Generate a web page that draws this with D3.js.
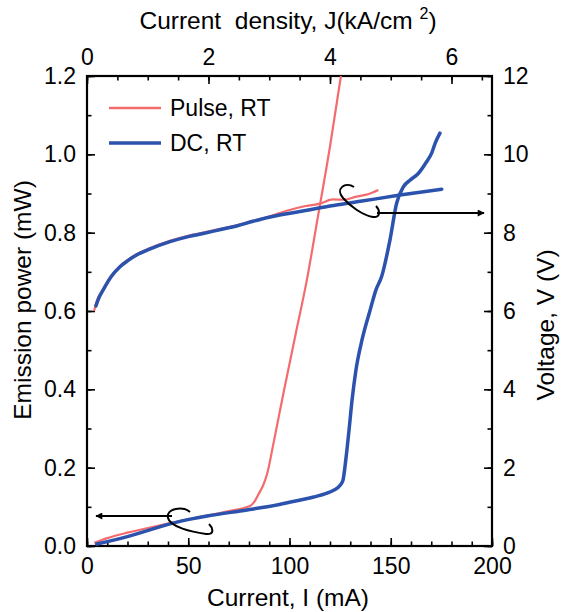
<!DOCTYPE html>
<html><head><meta charset="utf-8">
<script src="https://cdn.jsdelivr.net/npm/d3@7"></script>
<style>
html,body{margin:0;padding:0;background:#fff;}
text{font-family:"Liberation Sans",Arial,sans-serif;fill:#000;}
</style></head>
<body><svg id="c" width="562" height="612"></svg>
<script>
// ---- data ----
const pulsePowerI = [3.6, 10, 20, 30, 40, 50, 60, 70, 80.5, 82.5, 85, 87, 89, 92, 97, 103, 108.6, 114, 120, 125.4];
const pulsePowerP = [0.008, 0.02, 0.034, 0.046, 0.057, 0.068, 0.078, 0.089, 0.102, 0.112, 0.135, 0.155, 0.185, 0.26, 0.39, 0.54, 0.68, 0.84, 1.02, 1.2];
const dcPowerI = [4.8, 20, 44.4, 60, 79, 95, 105, 112, 118.5, 122, 125, 126.4, 127.8, 129.4, 130.9, 132.8, 135.8, 139.8, 142.7, 145.5, 149.6, 152.9, 156.2, 159.5, 163.6, 167.7, 170.2, 171.9, 174.3];
const dcPowerP = [0.005, 0.024, 0.061, 0.077, 0.092, 0.106, 0.117, 0.125, 0.135, 0.143, 0.155, 0.168, 0.22, 0.296, 0.373, 0.449, 0.526, 0.602, 0.654, 0.688, 0.781, 0.875, 0.917, 0.934, 0.951, 0.981, 1.003, 1.028, 1.054];
const pulseVoltI = [3.5, 5, 8, 12, 16.3, 20, 24.5, 30, 41, 50, 57.4, 66, 73.9, 82, 90.4, 100, 108, 115, 121.5, 127, 133, 138, 143.9];
const pulseVoltV = [6.0, 6.28, 6.56, 6.9, 7.15, 7.3, 7.45, 7.58, 7.79, 7.92, 8.0, 8.1, 8.19, 8.3, 8.42, 8.58, 8.68, 8.74, 8.85, 8.84, 8.92, 8.97, 9.09];
const dcVoltI = [4.4, 6, 8, 12, 16.3, 20, 24.5, 30, 41, 50, 57.4, 66, 73.9, 82, 90.4, 105.2, 120, 135, 154.6, 175.2];
const dcVoltV = [6.13, 6.35, 6.54, 6.88, 7.13, 7.28, 7.43, 7.56, 7.77, 7.9, 7.98, 8.08, 8.17, 8.29, 8.4, 8.54, 8.68, 8.8, 8.96, 9.11];
const xTicks = [0, 50, 100, 150, 200];
const yLeftTicks = [0.0, 0.2, 0.4, 0.6, 0.8, 1.0, 1.2];
const yRightTicks = [0, 2, 4, 6, 8, 10, 12];
const jTicks = [0, 2, 4, 6];
const legendLabels = ["Pulse, RT", "DC, RT"];
const colors = {pulse: "#f46b6e", dc: "#2b52ad"};

// ---- layout ----
const L = 87, R = 492, T = 76, B = 546;
const svg = d3.select("#c");
const x = d3.scaleLinear().domain([0, 200]).range([L, R]);
const xJ = d3.scaleLinear().domain([0, 200/30]).range([L, R]);
const yP = d3.scaleLinear().domain([0, 1.2]).range([B, T]);
const yV = d3.scaleLinear().domain([0, 12]).range([B, T]);
const fs = 23;
const tfs = 24.5;

function styleAxis(g){
  g.select(".domain").remove();
  g.selectAll("line").attr("stroke","#000").attr("stroke-width",1.6);
  g.selectAll("text").style("font-size", fs+"px");
}
const minorX = d3.range(0, 201, 10);
const minorYL = d3.range(0, 1.21, 0.1);
const minorYR = d3.range(0, 12.1, 1);
const minorJ = d3.range(0, 6.6, 0.5);

svg.append("g").attr("transform",`translate(0,${B})`).call(d3.axisBottom(x).tickValues(minorX).tickSize(-4.5).tickFormat("")).call(styleAxis);
svg.append("g").attr("transform",`translate(0,${B})`).call(d3.axisBottom(x).tickValues(xTicks).tickSize(-8).tickPadding(12).tickFormat(d3.format("d"))).call(styleAxis);
svg.append("g").attr("transform",`translate(0,${T})`).call(d3.axisTop(xJ).tickValues(minorJ).tickSize(-4.5).tickFormat("")).call(styleAxis);
svg.append("g").attr("transform",`translate(0,${T})`).call(d3.axisTop(xJ).tickValues(jTicks).tickSize(-8).tickPadding(11).tickFormat(d3.format("d"))).call(styleAxis);
svg.append("g").attr("transform",`translate(${L},0)`).call(d3.axisLeft(yP).tickValues(minorYL).tickSize(-4.5).tickFormat("")).call(styleAxis);
svg.append("g").attr("transform",`translate(${L},0)`).call(d3.axisLeft(yP).tickValues(yLeftTicks).tickSize(-8).tickPadding(11).tickFormat(d3.format(".1f"))).call(styleAxis);
svg.append("g").attr("transform",`translate(${R},0)`).call(d3.axisRight(yV).tickValues(minorYR).tickSize(-4.5).tickFormat("")).call(styleAxis);
svg.append("g").attr("transform",`translate(${R},0)`).call(d3.axisRight(yV).tickValues(yRightTicks).tickSize(-8).tickPadding(11).tickFormat(d3.format("d"))).call(styleAxis);

svg.append("rect").attr("x",L).attr("y",T).attr("width",R-L).attr("height",B-T)
  .attr("fill","none").attr("stroke","#000").attr("stroke-width",2.2);

svg.append("clipPath").attr("id","cp").append("rect").attr("x",L).attr("y",T-1).attr("width",R-L).attr("height",B-T+1);
function line(xs, ys, yscale){
  return d3.line().x((d,i)=>x(xs[i])).y((d,i)=>yscale(ys[i])).curve(d3.curveMonotoneX)(xs);
}
const pg = svg.append("g").attr("clip-path","url(#cp)");
pg.append("path").attr("d", line(pulseVoltI, pulseVoltV, yV)).attr("fill","none").attr("stroke",colors.pulse).attr("stroke-width",2.2);
pg.append("path").attr("d", line(pulsePowerI, pulsePowerP, yP)).attr("fill","none").attr("stroke",colors.pulse).attr("stroke-width",2.2);
pg.append("path").attr("d", line(dcVoltI, dcVoltV, yV)).attr("fill","none").attr("stroke",colors.dc).attr("stroke-width",3.5).attr("stroke-linecap","round");
pg.append("path").attr("d", line(dcPowerI, dcPowerP, yP)).attr("fill","none").attr("stroke",colors.dc).attr("stroke-width",3.5).attr("stroke-linecap","round");

const lg = svg.append("g");
[colors.pulse, colors.dc].forEach((c,i)=>{
  const yy = 108 + i*35;
  lg.append("line").attr("x1",109).attr("x2",161).attr("y1",yy).attr("y2",yy).attr("stroke",c).attr("stroke-width", i? 3.5:2.5);
  lg.append("text").attr("x",170).attr("y",yy+8).style("font-size",fs+"px").text(legendLabels[i]);
});

const defs = svg.append("defs");
defs.append("marker").attr("id","ah").attr("viewBox","0 0 10 10").attr("refX",9).attr("refY",5)
  .attr("markerWidth",10).attr("markerHeight",7).attr("markerUnits","userSpaceOnUse").attr("orient","auto")
  .append("path").attr("d","M0,0 L10,5 L0,10 Z").attr("fill","#000");
svg.append("path").attr("d","M354,187 C345,181 335,189 343,198 C350,206 362,215 373,217 C381,218 380,210 376,206")
  .attr("fill","none").attr("stroke","#000").attr("stroke-width",2);
svg.append("line").attr("x1",377).attr("y1",213).attr("x2",484).attr("y2",213)
  .attr("stroke","#000").attr("stroke-width",1.8).attr("marker-end","url(#ah)");
svg.append("path").attr("d","M190,512 C183,506 166,508 168,518 C170,527 192,532 206,534 C215,535 213,528 209,524")
  .attr("fill","none").attr("stroke","#000").attr("stroke-width",2);
svg.append("line").attr("x1",172).attr("y1",516).attr("x2",96).attr("y2",516)
  .attr("stroke","#000").attr("stroke-width",1.8).attr("marker-end","url(#ah)");

// titles
svg.append("text").attr("x",288).attr("y",606).attr("text-anchor","middle").style("font-size",tfs+"px").text("Current, I (mA)");
svg.append("text").attr("transform",`translate(31,300) rotate(-90)`).attr("text-anchor","middle").style("font-size",tfs+"px").text("Emission power (mW)");
svg.append("text").attr("transform",`translate(554,325) rotate(-90)`).attr("text-anchor","middle").style("font-size",tfs+"px").text("Voltage, V (V)");
const tt = svg.append("text").attr("x",288).attr("y",29).attr("text-anchor","middle").style("font-size",tfs+"px").style("white-space","pre");
tt.append("tspan").text("Current  density, J(kA/cm ");
tt.append("tspan").attr("dy",-10).style("font-size","16px").text("2");
tt.append("tspan").attr("dy",10).text(")");
</script></body></html>
